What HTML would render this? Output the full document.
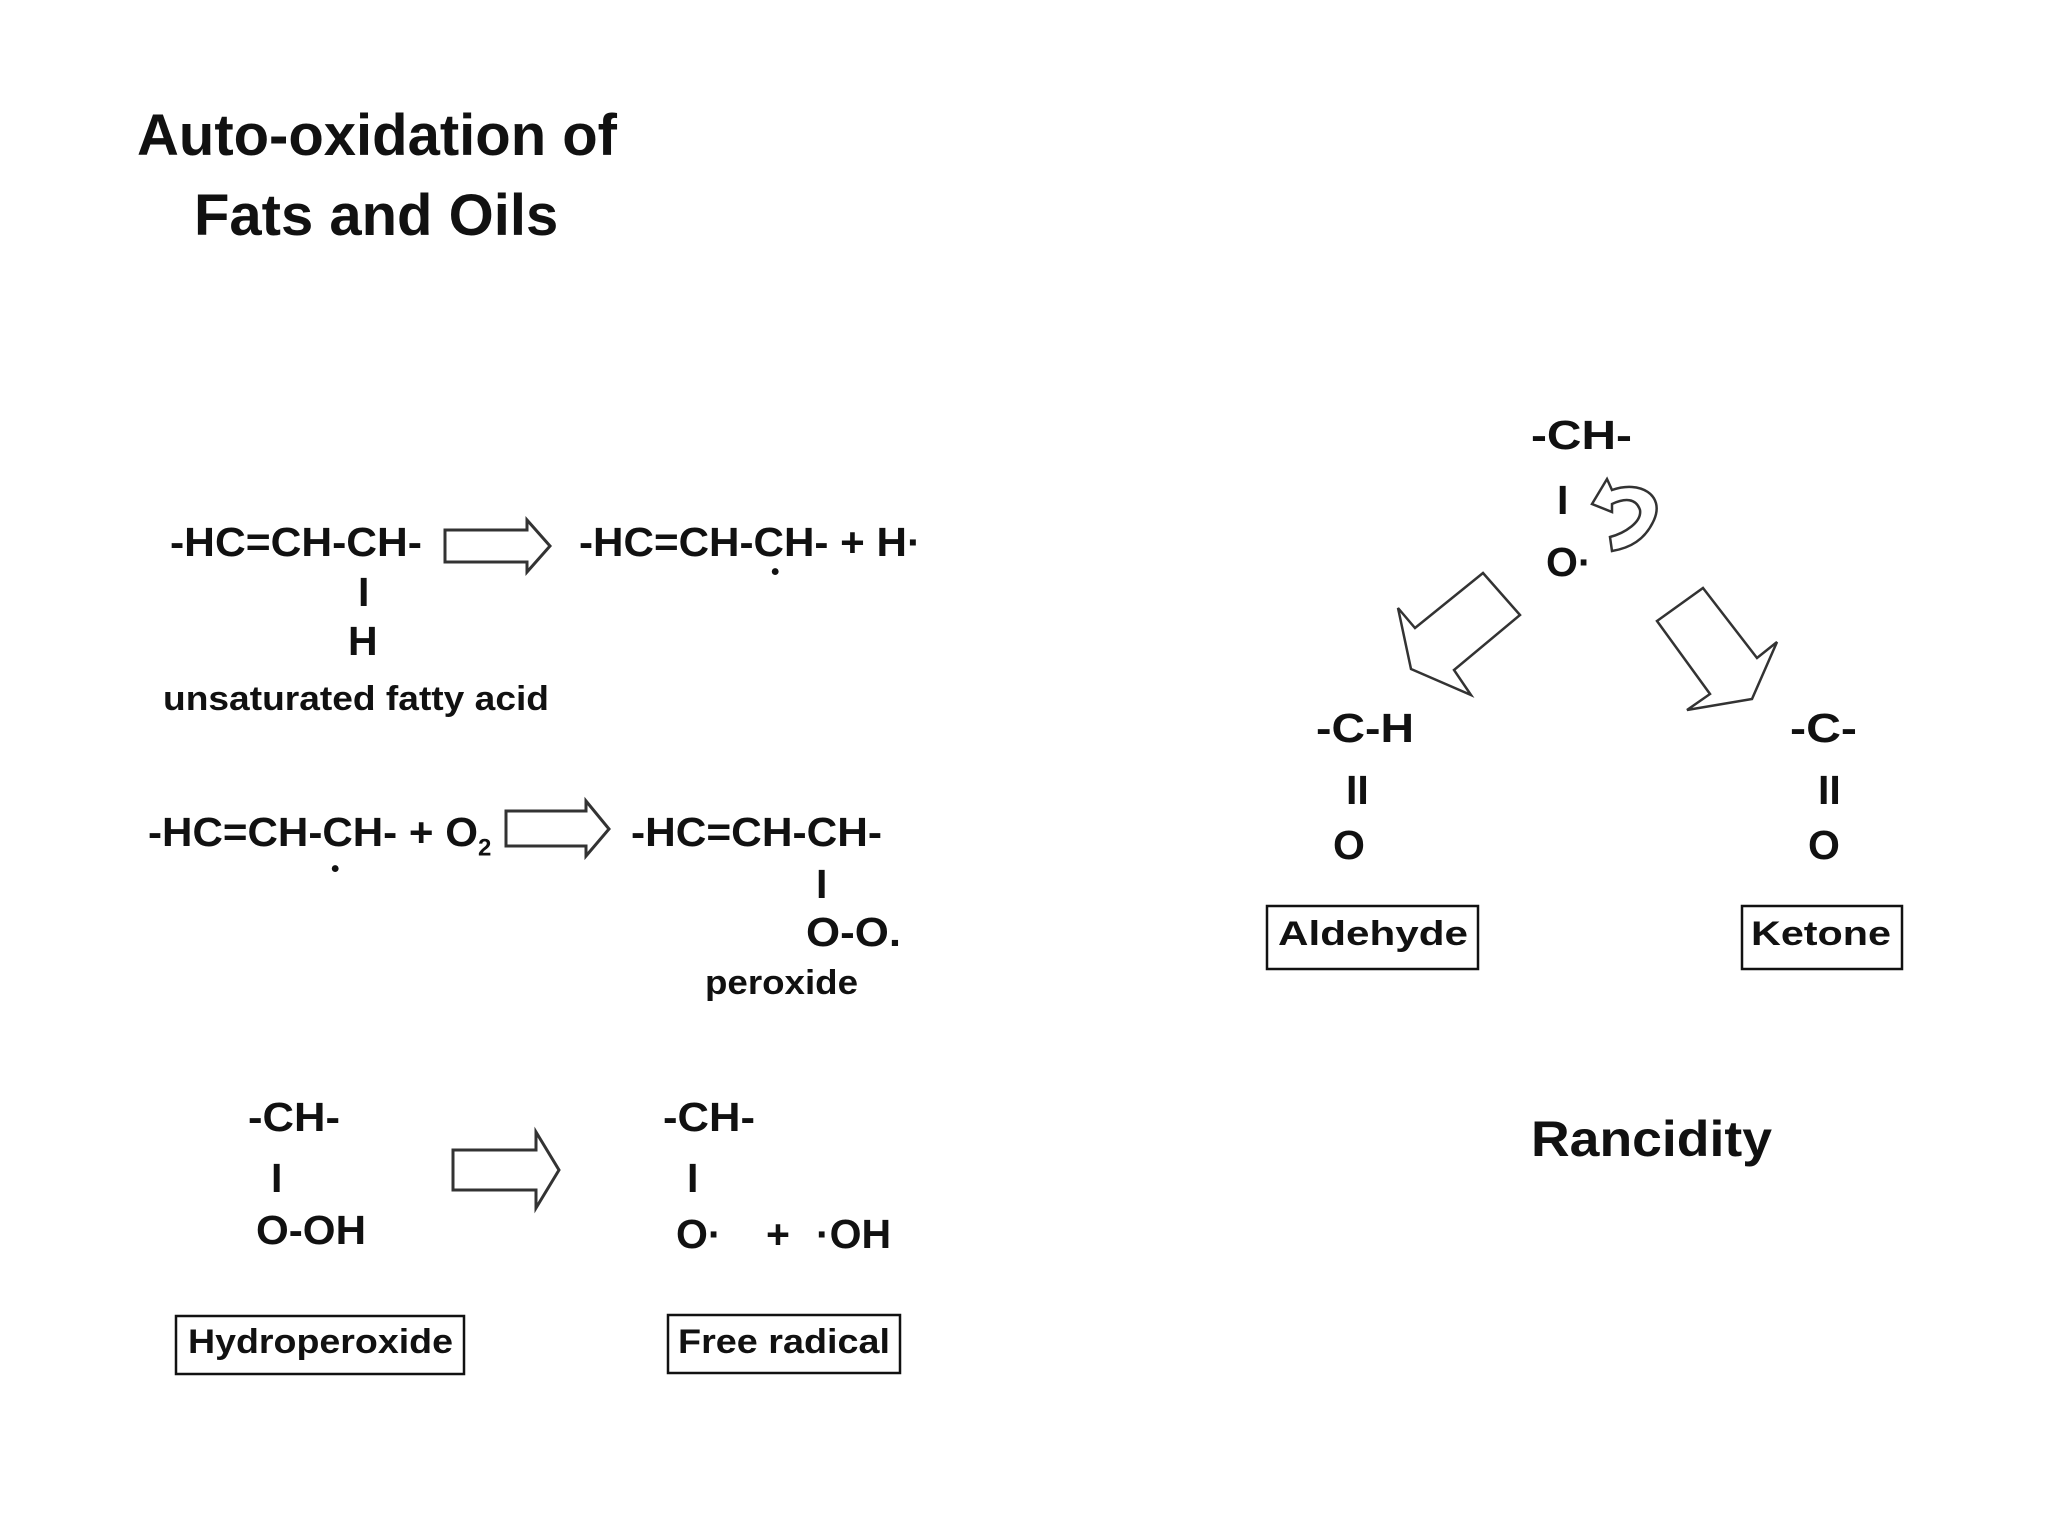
<!DOCTYPE html>
<html><head><meta charset="utf-8"><style>
html,body{margin:0;padding:0;background:#fff;width:2048px;height:1536px;overflow:hidden}
svg{display:block}
text{font-family:"Liberation Sans",Arial,sans-serif;font-weight:bold;fill:#111}
</style></head><body>
<svg width="2048" height="1536" viewBox="0 0 2048 1536">
<text x="137" y="155" font-size="58">Auto-oxidation of</text>
<text x="194" y="235" font-size="58">Fats and Oils</text>

<g font-size="41" dominant-baseline="central">
<text x="170" y="542" textLength="252" lengthAdjust="spacingAndGlyphs">-HC=CH-CH-</text>
<text x="579" y="542" textLength="342" lengthAdjust="spacingAndGlyphs">-HC=CH-CH- + H·</text>
<text x="358" y="592">I</text>
<text x="348" y="641">H</text>
<text x="148" y="832" textLength="330" lengthAdjust="spacingAndGlyphs">-HC=CH-CH- + O</text>
<text x="478" y="848" font-size="24">2</text>
<text x="631" y="832" textLength="251" lengthAdjust="spacingAndGlyphs">-HC=CH-CH-</text>
<text x="816" y="884">I</text>
<text x="806" y="932" textLength="95" lengthAdjust="spacingAndGlyphs">O-O.</text>
<text x="248" y="1117" textLength="92" lengthAdjust="spacingAndGlyphs">-CH-</text>
<text x="271" y="1178">I</text>
<text x="256" y="1230" textLength="110" lengthAdjust="spacingAndGlyphs">O-OH</text>
<text x="663" y="1117" textLength="92" lengthAdjust="spacingAndGlyphs">-CH-</text>
<text x="687" y="1178">I</text>
<text x="676" y="1234">O·</text>
<text x="766" y="1234">+</text>
<text x="816" y="1234">·OH</text>
<text x="1531" y="435" textLength="101" lengthAdjust="spacingAndGlyphs">-CH-</text>
<text x="1557" y="500">I</text>
<text x="1546" y="562">O·</text>
<text x="1316" y="728" textLength="98" lengthAdjust="spacingAndGlyphs">-C-H</text>
<text x="1346" y="790">II</text>
<text x="1333" y="845">O</text>
<text x="1790" y="728" textLength="67" lengthAdjust="spacingAndGlyphs">-C-</text>
<text x="1818" y="790">II</text>
<text x="1808" y="845">O</text>
</g>
<g font-size="34" dominant-baseline="central">
<text x="771" y="572" font-size="24">•</text>
<text x="331" y="869" font-size="24">•</text>
<text x="163" y="699" textLength="386" lengthAdjust="spacingAndGlyphs">unsaturated fatty acid</text>
<text x="705" y="983" textLength="153" lengthAdjust="spacingAndGlyphs">peroxide</text>
<text x="188" y="1342" textLength="265" lengthAdjust="spacingAndGlyphs">Hydroperoxide</text>
<text x="678" y="1342" textLength="212" lengthAdjust="spacingAndGlyphs">Free radical</text>
<text x="1278" y="934" textLength="190" lengthAdjust="spacingAndGlyphs">Aldehyde</text>
<text x="1751" y="934" textLength="140" lengthAdjust="spacingAndGlyphs">Ketone</text>
</g>
<text x="1531" y="1156" font-size="50" textLength="241" lengthAdjust="spacingAndGlyphs">Rancidity</text>

<g fill="none" stroke="#111" stroke-width="2.5">
<rect x="176" y="1316" width="288" height="58"/>
<rect x="668" y="1315" width="232" height="58"/>
<rect x="1267" y="906" width="211" height="63"/>
<rect x="1742" y="906" width="160" height="63"/>
</g>
<g fill="#fff" stroke="#333" stroke-width="3" stroke-linejoin="miter">
<polygon points="445,530 527,530 527,520 550,546 527,572 527,562 445,562"/>
<polygon points="506,811 586,811 586,801 609,829 586,856 586,846 506,846"/>
<polygon points="453,1150 536,1150 536,1132 559,1170 536,1208 536,1190 453,1190"/>
<polygon stroke-width="2.5" points="1483,573 1520,615 1454,670 1471,695 1411,669 1398,608 1415,628"/>
<polygon stroke-width="2.5" points="1703,588 1757,658 1777,642 1752,699 1687,710 1710,694 1657,621"/>
<path stroke-width="2.5" d="M1592,504 L1607,479 L1612,490 C1640,480 1665,495 1654,520 C1645,540 1630,548 1612,551 L1610,537 C1625,533 1642,522 1640,510 C1636,498 1625,498 1612,504 L1612,512 Z"/>
</g>
</svg>
</body></html>
